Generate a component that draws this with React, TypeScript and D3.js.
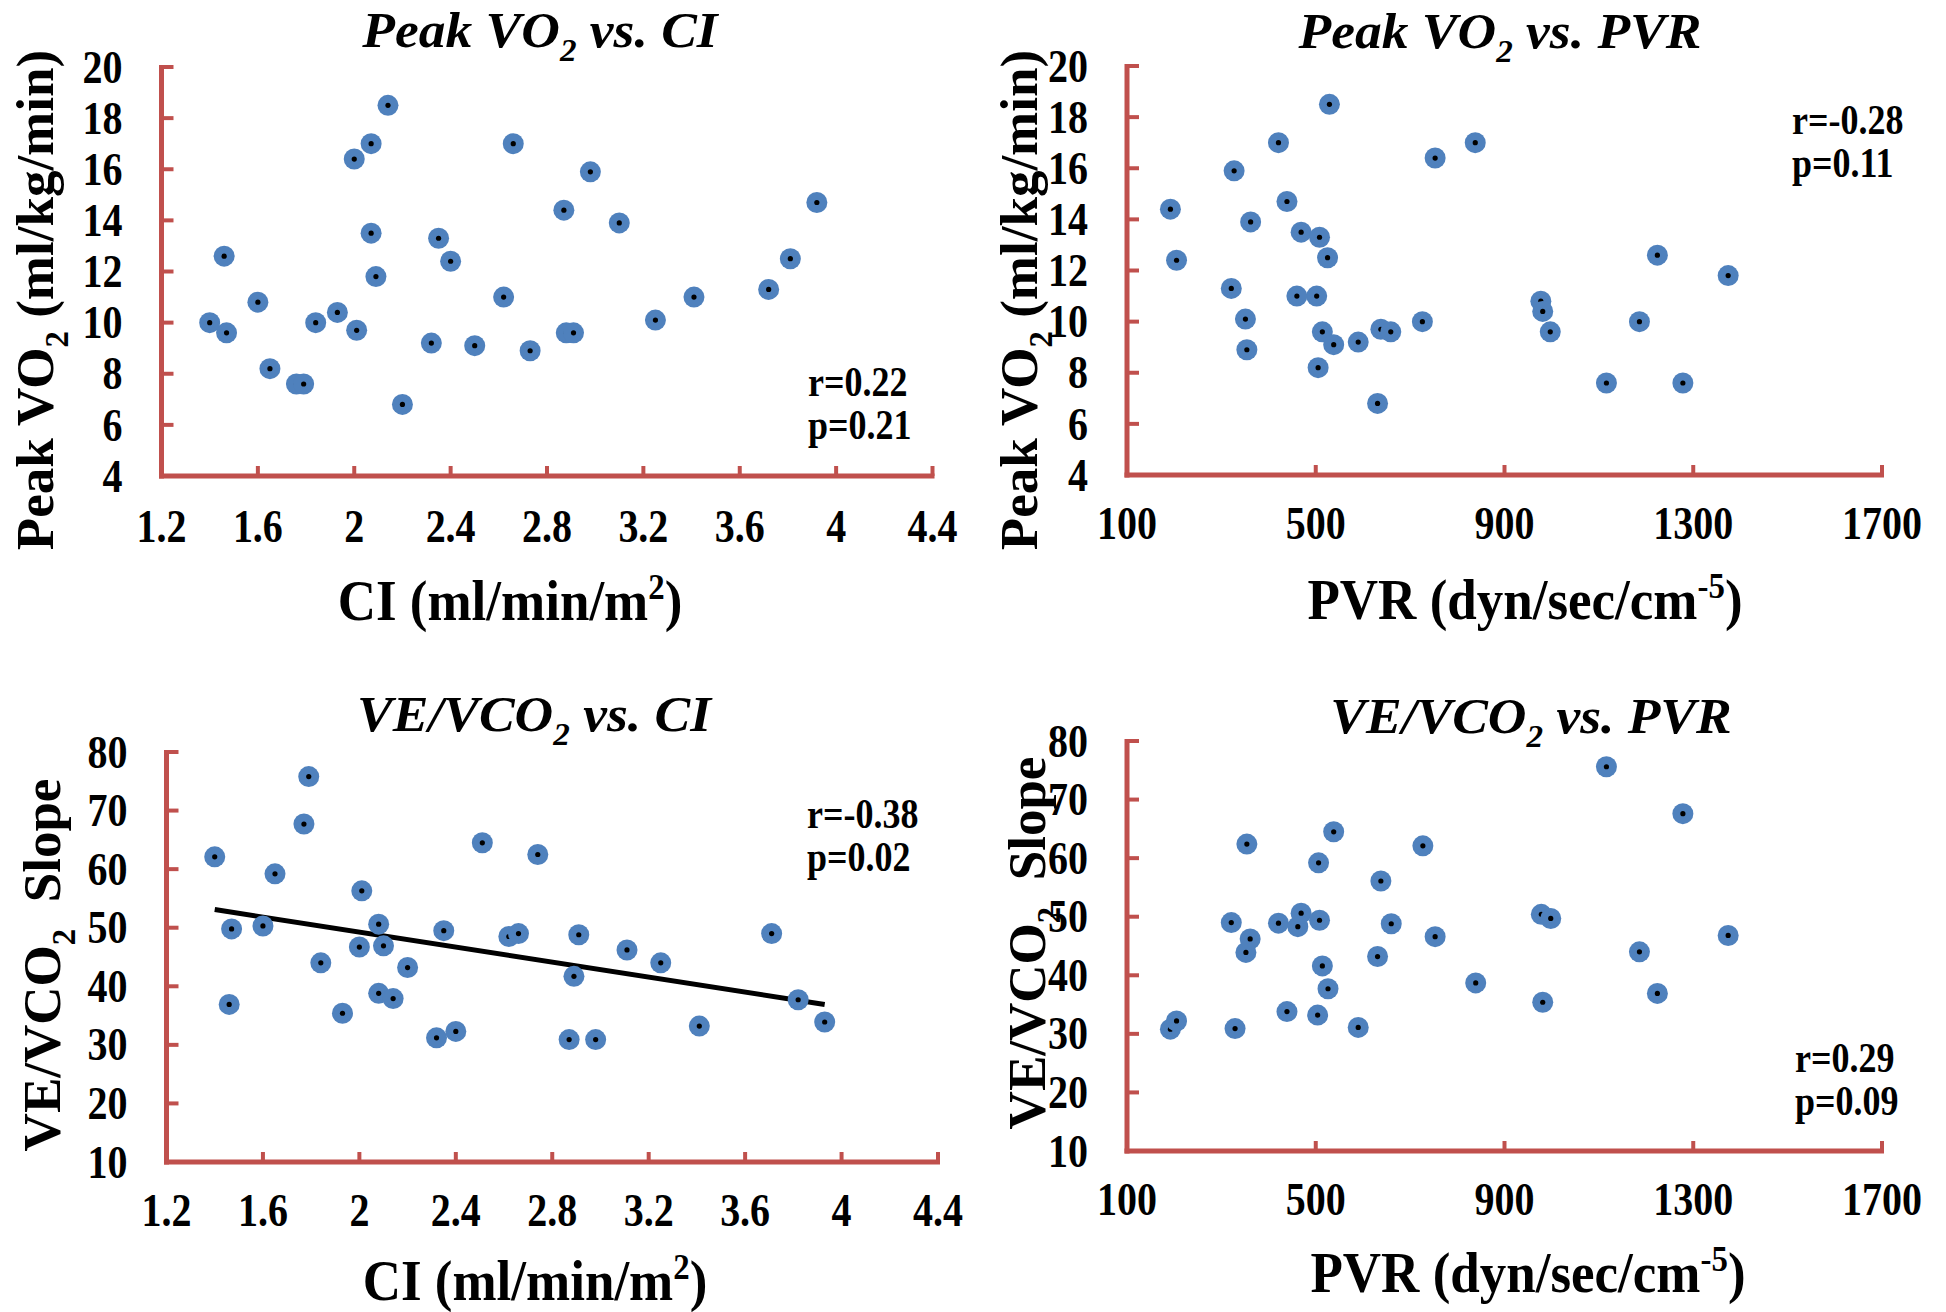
import * as d3 from 'd3';

// ---- data ----
const ciTickLabels = ['1.2', '1.6', '2', '2.4', '2.8', '3.2', '3.6', '4', '4.4'];
const pvrTickLabels = ['100', '500', '900', '1300', '1700'];
const vo2TickLabels = ['4', '6', '8', '10', '12', '14', '16', '18', '20'];
const slopeTickLabels = ['10', '20', '30', '40', '50', '60', '70', '80'];

// Peak VO2 vs CI
const ciA = [1.40, 1.47, 1.46, 1.60, 1.65, 1.76, 1.79, 1.84, 1.93, 2.00, 2.01, 2.07, 2.07, 2.09, 2.14, 2.20, 2.32, 2.35, 2.40, 2.50, 2.62, 2.66, 2.73, 2.87, 2.88, 2.91, 2.98, 3.10, 3.25, 3.41, 3.72, 3.81, 3.92];
const vo2A = [10.0, 9.6, 12.6, 10.8, 8.2, 7.6, 7.6, 10.0, 10.4, 16.4, 9.7, 17.0, 13.5, 11.8, 18.5, 6.8, 9.2, 13.3, 12.4, 9.1, 11.0, 17.0, 8.9, 14.4, 9.6, 9.6, 15.9, 13.9, 10.1, 11.0, 11.3, 12.5, 14.7];

// Peak VO2 vs PVR
const pvrB = [192, 205, 321, 327, 351, 354, 362, 421, 439, 460, 469, 502, 505, 508, 514, 525, 529, 538, 590, 631, 638, 659, 726, 753, 838, 977, 981, 997, 1116, 1186, 1224, 1278, 1374];
const vo2B = [14.4, 12.4, 11.3, 15.9, 10.1, 8.9, 13.9, 17.0, 14.7, 11.0, 13.5, 11.0, 8.2, 13.3, 9.6, 12.5, 18.5, 9.1, 9.2, 6.8, 9.7, 9.6, 10.0, 16.4, 17.0, 10.8, 10.4, 9.6, 7.6, 10.0, 12.6, 7.6, 11.8];

// VE/VCO2 slope vs CI
const ciC = [1.40, 1.46, 1.47, 1.60, 1.65, 1.77, 1.79, 1.84, 1.93, 2.00, 2.01, 2.08, 2.08, 2.10, 2.14, 2.20, 2.32, 2.35, 2.40, 2.51, 2.62, 2.66, 2.74, 2.87, 2.89, 2.91, 2.98, 3.11, 3.25, 3.41, 3.71, 3.82, 3.93];
const slopeC = [62.1, 36.9, 49.8, 50.3, 59.2, 67.7, 75.8, 44.0, 35.4, 46.7, 56.3, 50.6, 38.8, 46.9, 37.9, 43.2, 31.2, 49.5, 32.3, 64.5, 48.5, 49.0, 62.5, 30.9, 41.7, 48.8, 30.9, 46.2, 44.0, 33.2, 49.0, 37.7, 33.9];
const trendCi = [1.40, 3.93];
const trendSlope = [53.1, 36.9];

// VE/VCO2 slope vs PVR
const pvrD = [192, 205, 321, 329, 352, 361, 354, 421, 439, 462, 469, 504, 508, 506, 514, 526, 538, 590, 631, 638, 660, 727, 753, 839, 978, 998, 981, 1116, 1186, 1224, 1278, 1374];
const slopeD = [30.8, 32.2, 49.0, 30.9, 43.9, 46.2, 62.4, 48.9, 33.8, 48.3, 50.6, 33.2, 49.4, 59.2, 41.6, 37.7, 64.5, 31.1, 43.2, 56.1, 48.8, 62.1, 46.6, 38.7, 50.4, 49.7, 35.4, 75.6, 44.0, 36.9, 67.6, 46.8];

const FONT = '"Liberation Serif", "Times New Roman", serif';
const AXIS_RED = '#C0504D';
const DOT_BLUE = '#4F81BD';

type Seg = { t: string; sub?: boolean; sup?: boolean };

function Rich({ segs, size }: { segs: Seg[]; size: number }) {
  let shift = 0;
  return (
    <>
      {segs.map((s, i) => {
        const target = s.sub ? size * 0.28 : s.sup ? -size * 0.36 : 0;
        const dy = target - shift;
        shift = target;
        return (
          <tspan key={i} dy={dy} fontSize={s.sub || s.sup ? size * 0.62 : size}>
            {s.t}
          </tspan>
        );
      })}
    </>
  );
}

type PanelProps = {
  xs: number[];
  ys: number[];
  xLabels: string[];
  yLabels: string[];
  xRange: [number, number];
  yRange: [number, number];
  title: Seg[];
  titlePos: [number, number];
  xTitle: Seg[];
  xTitlePos: [number, number];
  yTitle: Seg[];
  yTitlePos: [number, number];
  stats: string[];
  statsPos: [number, number];
  tickBaseline: number;
  trend?: { xs: number[]; ys: number[] };
};

// the source figure's lettering is a little taller than plain Times
const TICK_SY = 1.15;

function Panel(p: PanelProps) {
  const xVals = p.xLabels.map(Number);
  const yVals = p.yLabels.map(Number);
  const x = d3.scaleLinear().domain(d3.extent(xVals) as [number, number]).range(p.xRange);
  const y = d3.scaleLinear().domain(d3.extent(yVals) as [number, number]).range(p.yRange);
  const [xl, xr] = p.xRange;
  const [yb, yt] = p.yRange;
  const line = d3.line<number>().x((d) => x(d)).y((_, i) => y(p.trend!.ys[i]));

  return (
    <g>
      <text transform={`translate(${p.titlePos[0]},${p.titlePos[1]}) scale(1.07,1)`} textAnchor="middle"
        fontFamily={FONT} fontWeight="bold" fontStyle="italic" fontSize={50}>
        <Rich segs={p.title} size={50} />
      </text>

      {/* axes */}
      <line x1={xl} x2={xl} y1={yt - 2} y2={yb + 2.5} stroke={AXIS_RED} strokeWidth={5} />
      <line x1={xl - 2.5} x2={xr + 2} y1={yb} y2={yb} stroke={AXIS_RED} strokeWidth={5} />
      {yVals.map((v) => (
        <line key={'yt' + v} x1={xl} x2={xl + 12} y1={y(v)} y2={y(v)} stroke={AXIS_RED} strokeWidth={4} />
      ))}
      {xVals.map((v) => (
        <line key={'xt' + v} x1={x(v)} x2={x(v)} y1={yb} y2={yb - 10} stroke={AXIS_RED} strokeWidth={4} />
      ))}

      {/* tick labels */}
      <g fontFamily={FONT} fontWeight="bold" fontSize={40} fill="#000">
        {p.yLabels.map((l) => (
          <text key={'yl' + l} transform={`translate(${xl - 39},${y(+l)}) scale(1,${TICK_SY})`}
            dy="0.34em" textAnchor="end">{l}</text>
        ))}
        {p.xLabels.map((l) => (
          <text key={'xl' + l} transform={`translate(${x(+l)},${p.tickBaseline}) scale(1,${TICK_SY})`}
            textAnchor="middle">{l}</text>
        ))}
      </g>

      <text transform={`translate(${p.xTitlePos[0]},${p.xTitlePos[1]}) scale(1,1.08)`} textAnchor="middle"
        fontFamily={FONT} fontWeight="bold" fontSize={53}>
        <Rich segs={p.xTitle} size={53} />
      </text>
      <text transform={`translate(${p.yTitlePos[0]},${p.yTitlePos[1]}) rotate(-90)`} textAnchor="middle"
        fontFamily={FONT} fontWeight="bold" fontSize={53} xmlSpace="preserve">
        <Rich segs={p.yTitle} size={53} />
      </text>

      {p.trend && (
        <path d={line(p.trend.xs) || ''} fill="none" stroke="#000" strokeWidth={5} />
      )}

      {p.xs.map((v, i) => (
        <g key={'pt' + i} transform={`translate(${x(v)},${y(p.ys[i])})`}>
          <circle r={10.5} fill={DOT_BLUE} />
          <circle r={2.6} fill="#000" />
        </g>
      ))}

      {p.stats.map((s, i) => (
        <text key={s} transform={`translate(${p.statsPos[0]},${p.statsPos[1] + i * 43}) scale(1,${TICK_SY})`}
          fontFamily={FONT} fontWeight="bold" fontSize={36}>{s}</text>
      ))}
    </g>
  );
}

const ciTitle: Seg[] = [{ t: 'CI (ml/min/m' }, { t: '2', sup: true }, { t: ')' }];
const pvrTitle: Seg[] = [{ t: 'PVR (dyn/sec/cm' }, { t: '-5', sup: true }, { t: ')' }];
const vo2Title: Seg[] = [{ t: 'Peak VO' }, { t: '2', sub: true }, { t: ' (ml/kg/min)' }];
const slopeTitle: Seg[] = [{ t: 'VE/VCO' }, { t: '2', sub: true }, { t: '  Slope' }];

export default function App() {
  return (
    <svg width={1946} height={1312} style={{ position: 'absolute', left: 0, top: 0, background: '#fff' }}>
      <rect width={1946} height={1312} fill="#fff" />
      <Panel
        xs={ciA} ys={vo2A} xLabels={ciTickLabels} yLabels={vo2TickLabels}
        xRange={[161.5, 932.5]} yRange={[476, 67]}
        title={[{ t: 'Peak VO' }, { t: '2', sub: true }, { t: ' vs. CI' }]} titlePos={[540, 47]}
        xTitle={ciTitle} xTitlePos={[510, 620]}
        yTitle={vo2Title} yTitlePos={[53, 300]}
        stats={['r=0.22', 'p=0.21']} statsPos={[808, 396]}
        tickBaseline={542}
      />
      <Panel
        xs={pvrB} ys={vo2B} xLabels={pvrTickLabels} yLabels={vo2TickLabels}
        xRange={[1127, 1882]} yRange={[475, 66]}
        title={[{ t: 'Peak VO' }, { t: '2', sub: true }, { t: ' vs. PVR' }]} titlePos={[1500, 48]}
        xTitle={pvrTitle} xTitlePos={[1525, 619]}
        yTitle={vo2Title} yTitlePos={[1037, 300]}
        stats={['r=-0.28', 'p=0.11']} statsPos={[1792, 134]}
        tickBaseline={539}
      />
      <Panel
        xs={ciC} ys={slopeC} xLabels={ciTickLabels} yLabels={slopeTickLabels}
        xRange={[166.5, 938]} yRange={[1162, 752]}
        title={[{ t: 'VE/VCO' }, { t: '2', sub: true }, { t: ' vs. CI' }]} titlePos={[534, 731]}
        xTitle={ciTitle} xTitlePos={[535, 1300]}
        yTitle={slopeTitle} yTitlePos={[60, 965]}
        stats={['r=-0.38', 'p=0.02']} statsPos={[807, 828]}
        tickBaseline={1226}
        trend={{ xs: trendCi, ys: trendSlope }}
      />
      <Panel
        xs={pvrD} ys={slopeD} xLabels={pvrTickLabels} yLabels={slopeTickLabels}
        xRange={[1127, 1882]} yRange={[1151, 741]}
        title={[{ t: 'VE/VCO' }, { t: '2', sub: true }, { t: ' vs. PVR' }]} titlePos={[1531, 733]}
        xTitle={pvrTitle} xTitlePos={[1528, 1292]}
        yTitle={slopeTitle} yTitlePos={[1045, 943]}
        stats={['r=0.29', 'p=0.09']} statsPos={[1795, 1072]}
        tickBaseline={1215}
      />
    </svg>
  );
}
